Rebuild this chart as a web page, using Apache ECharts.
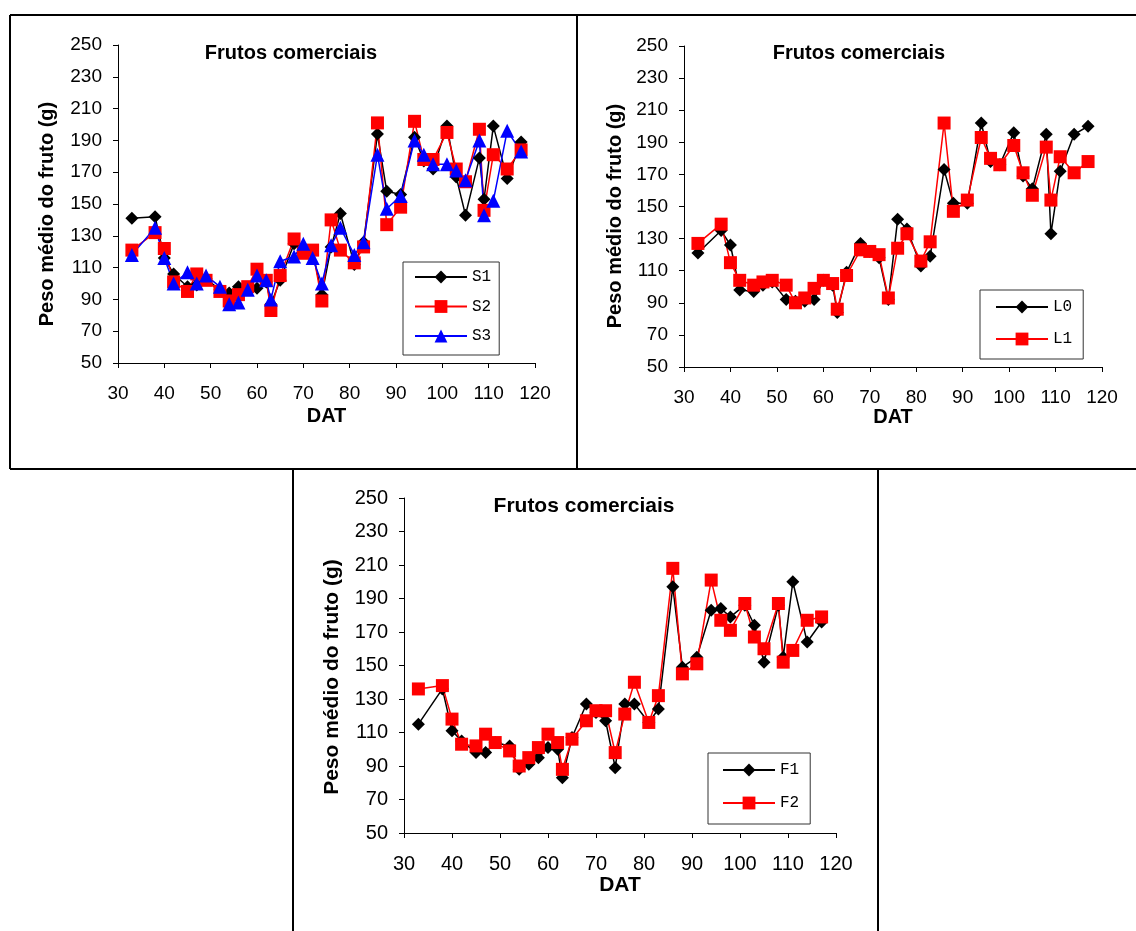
<!DOCTYPE html>
<html>
<head>
<meta charset="utf-8">
<title>Frutos comerciais</title>
<script src="https://cdn.jsdelivr.net/npm/echarts@6/dist/echarts.min.js"></script>
<style>
  html, body { margin: 0; padding: 0; background: #ffffff; }
  #chart { width: 1136px; height: 931px; }
</style>
</head>
<body>
<div id="chart"></div>
<script>
// Days after transplanting (DAT) shared by every series
const dat = [33, 38, 40, 42, 45, 47, 49, 52, 54, 56, 58, 60, 62, 63, 65, 68, 70, 72, 74,
             76, 78, 81, 83, 86, 88, 91, 94, 96, 98, 101, 103, 105, 108, 109, 111, 114, 117];

// Mean fruit weight (g), marketable fruits
const s1 = [141, 142, 116, 106, 98, 99, 103, 96, 94, 98, 97, 97, 101, 87, 102, 125, 121, 120, 93,
            123, 144, 112, 126, 194, 158, 156, 192, 177, 172, 199, 167, 143, 179, 153, 199, 166, 189];
const s2 = [121, 132, 122, 101, 95, 106, 102, 95, 89, 93, 98, 109, 102, 83, 105, 128, 119, 121, 89,
            140, 121, 113, 123, 201, 137, 148, 202, 178, 178, 195, 172, 164, 197, 146, 181, 172, 184];
const s3 = [118, 135, 116, 100, 107, 100, 105, 98, 87, 88, 96, 105, 102, 90, 114, 117, 125, 116, 100,
            124, 135, 118, 126, 181, 147, 155, 190, 181, 175, 175, 171, 165, 190, 143, 152, 196, 183];

const l0 = [121, 135, 126, 98, 97, 101, 103, 92, 91, 91, 92, 104, 101, 84, 109, 127, 122, 118, 92,
            142, 136, 113, 119, 173, 152, 152, 202, 178, 176, 196, 169, 161, 195, 133, 172, 195, 200];
const l1 = [127, 139, 115, 104, 101, 103, 104, 101, 90, 93, 99, 104, 102, 86, 107, 123, 122, 120, 93,
            124, 133, 116, 128, 202, 147, 154, 193, 180, 176, 188, 171, 157, 187, 154, 181, 171, 178];

const f1 = [115, 136, 111, 105, 98, 98, 104, 102, 88, 91, 95, 101, 100, 83, 107, 127, 122, 117, 89,
            127, 127, 116, 124, 197, 149, 155, 183, 184, 179, 186, 174, 152, 186, 155, 200, 164, 176];
const f2 = [136, 138, 118, 103, 102, 109, 104, 99, 90, 95, 101, 109, 104, 88, 106, 117, 123, 123, 98,
            121, 140, 116, 132, 208, 145, 151, 201, 177, 171, 187, 167, 160, 187, 152, 159, 177, 179];

// Axis ticks
const xTicks = [30, 40, 50, 60, 70, 80, 90, 100, 110, 120];
const yTicks = [50, 70, 90, 110, 130, 150, 170, 190, 210, 230, 250];

const titleText = 'Frutos comerciais';
const yName = 'Peso médio do fruto (g)';
const xName = 'DAT';

const SANS = 'Arial, "Liberation Sans", sans-serif';
const MONO = '"Courier New", "Liberation Mono", monospace';

// Layout of the three panels
const panels = [
  { grid: { left: 118, top: 45, width: 417, height: 318 }, font: 19, nameGap: 43,
    titleX: 291, titleY: 43, yNameX: 47, yNameY: 214,
    legend: { left: 403, top: 262, gap: 13.5, padding: [7, 8, 11, 11] } },
  { grid: { left: 684, top: 46, width: 418, height: 321 }, font: 19, nameGap: 39,
    titleX: 859, titleY: 43, yNameX: 615, yNameY: 216,
    legend: { left: 980, top: 290, gap: 16, padding: [9, 11, 12, 15] } },
  { grid: { left: 404, top: 498, width: 432, height: 335 }, font: 20, nameGap: 41,
    titleX: 584, titleY: 496, yNameX: 332, yNameY: 677,
    legend: { left: 708, top: 753, gap: 17, padding: [9, 11, 13, 14] } }
];

const groups = [
  [ { name: 'S1', data: s1, color: '#000000', symbol: 'diamond', size: 13 },
    { name: 'S2', data: s2, color: '#ff0000', symbol: 'rect', size: 13 },
    { name: 'S3', data: s3, color: '#0000ff', symbol: 'triangle', size: 14 } ],
  [ { name: 'L0', data: l0, color: '#000000', symbol: 'diamond', size: 13 },
    { name: 'L1', data: l1, color: '#ff0000', symbol: 'rect', size: 13 } ],
  [ { name: 'F1', data: f1, color: '#000000', symbol: 'diamond', size: 13 },
    { name: 'F2', data: f2, color: '#ff0000', symbol: 'rect', size: 13 } ]
];

const option = {
  animation: false,
  backgroundColor: '#ffffff',
  grid: [], xAxis: [], yAxis: [], series: [], legend: [], title: [], graphic: []
};

panels.forEach((p, i) => {
  option.grid.push(Object.assign({ containLabel: false }, p.grid));

  option.title.push({
    text: titleText, left: p.titleX, top: p.titleY, textAlign: 'center', padding: 0,
    textStyle: { fontFamily: SANS, fontWeight: 'bold', fontSize: p.font + 1, color: '#000' }
  });

  option.xAxis.push({
    type: 'value', gridIndex: i, min: 30, max: 120, interval: 10,
    name: xName, nameLocation: 'middle', nameGap: p.nameGap,
    nameTextStyle: { fontFamily: SANS, fontWeight: 'bold', fontSize: p.font + 1, color: '#000' },
    axisLine: { show: true, onZero: false, lineStyle: { color: '#000', width: 1 } },
    axisTick: { show: true, length: 5, customValues: xTicks, lineStyle: { color: '#000', width: 1 } },
    axisLabel: { margin: 21, customValues: xTicks, fontFamily: SANS, fontSize: p.font, color: '#000' },
    splitLine: { show: false }
  });

  option.yAxis.push({
    type: 'value', gridIndex: i, min: 50, max: 250, interval: 10,
    axisLine: { show: true, onZero: false, lineStyle: { color: '#000', width: 1 } },
    axisTick: { show: true, length: 5, customValues: yTicks, lineStyle: { color: '#000', width: 1 } },
    axisLabel: { margin: 16, customValues: yTicks, fontFamily: SANS, fontSize: p.font, color: '#000' },
    splitLine: { show: false }
  });

  groups[i].forEach(g => {
    option.series.push({
      type: 'line', name: g.name, xAxisIndex: i, yAxisIndex: i,
      data: dat.map((d, k) => [d, g.data[k]]),
      symbol: g.symbol, symbolSize: g.size, showAllSymbol: true,
      lineStyle: { color: g.color, width: 1.5 },
      itemStyle: { color: g.color, borderWidth: 0 },
      emphasis: { disabled: true }
    });
  });

  option.legend.push({
    data: groups[i].map(g => g.name),
    orient: 'vertical', left: p.legend.left, top: p.legend.top,
    itemWidth: 52, itemHeight: 16, itemGap: p.legend.gap, padding: p.legend.padding,
    borderColor: '#333', borderWidth: 1, backgroundColor: '#fff',
    selectedMode: false,
    textStyle: { fontFamily: MONO, fontSize: 16, color: '#000' }
  });

  option.graphic.push({
    type: 'text', x: p.yNameX, y: p.yNameY, rotation: Math.PI / 2,
    style: { text: yName, font: 'bold ' + (p.font + 1) + 'px ' + SANS, fill: '#000',
             align: 'center', verticalAlign: 'middle' }
  });
});

// Panel frames
const frame = (x1, y1, x2, y2) => ({
  type: 'line', shape: { x1: x1, y1: y1, x2: x2, y2: y2 },
  style: { stroke: '#000', lineWidth: 2 }, silent: true
});
option.graphic.push(
  frame(10, 15, 1136, 15),
  frame(10, 15, 10, 469),
  frame(577, 15, 577, 469),
  frame(10, 469, 1136, 469),
  frame(293, 469, 293, 931),
  frame(878, 469, 878, 931)
);

const chart = echarts.init(document.getElementById('chart'), null, { renderer: 'canvas' });
chart.setOption(option);
</script>
</body>
</html>
